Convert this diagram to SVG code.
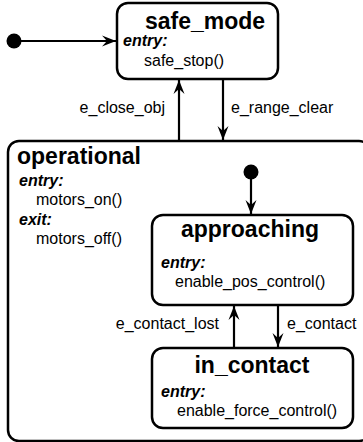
<svg xmlns="http://www.w3.org/2000/svg" width="363" height="442" viewBox="0 0 363 442">
  <style>
    .state { fill: #ffffff; stroke: #000000; stroke-width: 2.5; }
    .title { font-family: "Liberation Sans", Arial, sans-serif; font-weight: bold; font-size: 23px; fill: #000; text-anchor: middle; }
    .kw { font-family: "Liberation Sans", Arial, sans-serif; font-weight: bold; font-style: italic; font-size: 16px; fill: #000; }
    .act { font-family: "Liberation Sans", Arial, sans-serif; font-size: 16px; fill: #000; }
    .lbl { font-family: "Liberation Sans", Arial, sans-serif; font-size: 16px; fill: #000; }
    .edge { stroke: #000000; stroke-width: 2.2; fill: none; marker-end: url(#head); }
    .init { fill: #000000; }
  </style>
  <defs>
    <marker id="head" viewBox="-15 -7 16 14" refX="0" refY="0" markerWidth="16" markerHeight="14" markerUnits="userSpaceOnUse" orient="auto">
      <path d="M0,0 L-14,-5.5 L-9,0 L-14,5.5 Z" fill="#000000"/>
    </marker>
  </defs>

  <!-- composite state: operational -->
  <g id="operational">
    <rect class="state" x="8" y="141" width="362" height="300" rx="11"/>
    <text class="title" x="17" y="164" style="text-anchor:start">operational</text>
    <text class="kw" x="19" y="186">entry:</text>
    <text class="act" x="36" y="205">motors_on()</text>
    <text class="kw" x="19" y="225">exit:</text>
    <text class="act" x="36" y="244">motors_off()</text>
  </g>

  <g id="safe_mode">
    <rect class="state" x="117" y="3" width="161" height="76" rx="11"/>
    <text class="title" x="205" y="29">safe_mode</text>
    <text class="kw" x="123" y="46">entry:</text>
    <text class="act" x="144" y="66">safe_stop()</text>
  </g>

  <g id="approaching">
    <rect class="state" x="152" y="215" width="201" height="90" rx="11"/>
    <text class="title" x="250" y="237">approaching</text>
    <text class="kw" x="161" y="268">entry:</text>
    <text class="act" x="175" y="287">enable_pos_control()</text>
  </g>

  <g id="in_contact">
    <rect class="state" x="152" y="348" width="201" height="80" rx="11"/>
    <text class="title" x="252" y="373">in_contact</text>
    <text class="kw" x="161" y="397">entry:</text>
    <text class="act" x="177" y="416">enable_force_control()</text>
  </g>

  <g id="initial_top">
    <circle class="init" cx="14" cy="41" r="7.5"/>
  </g>
  <g id="initial_inner">
    <circle class="init" cx="251" cy="172" r="7.5"/>
  </g>

  <g id="connectors">
    <line class="edge" x1="14" y1="41" x2="116" y2="41"/>
    <line class="edge" x1="179" y1="141" x2="179" y2="80"/>
    <text class="lbl" x="165" y="113" text-anchor="end">e_close_obj</text>
    <line class="edge" x1="223" y1="79" x2="223" y2="140"/>
    <text class="lbl" x="231" y="113">e_range_clear</text>
    <line class="edge" x1="251" y1="172" x2="251" y2="214"/>
    <line class="edge" x1="234" y1="348" x2="234" y2="306"/>
    <text class="lbl" x="219" y="329" text-anchor="end">e_contact_lost</text>
    <line class="edge" x1="278" y1="305" x2="278" y2="347"/>
    <text class="lbl" x="287" y="329">e_contact</text>
  </g>
</svg>
